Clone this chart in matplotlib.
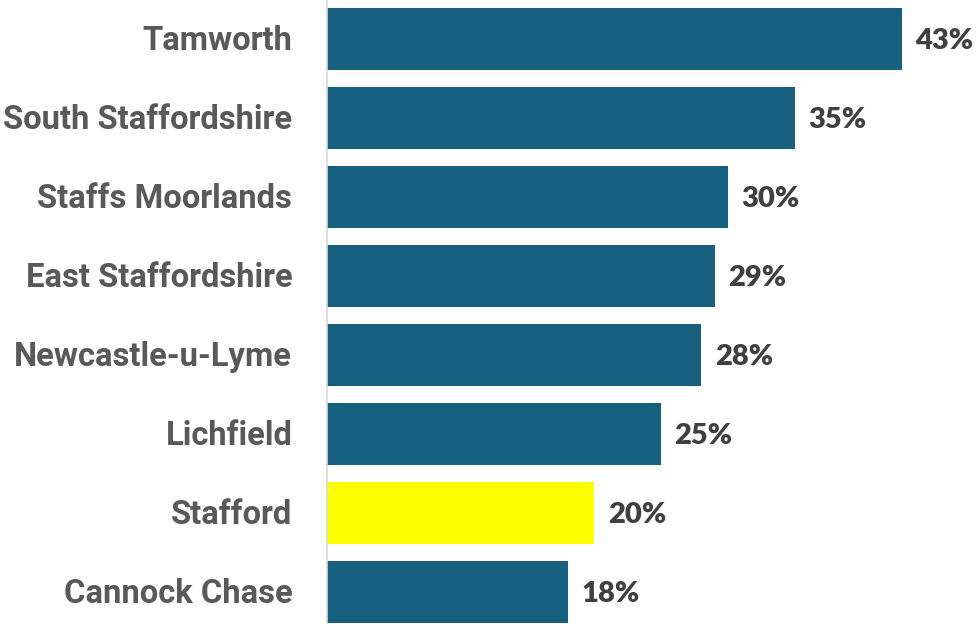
import matplotlib
matplotlib.use("Agg")
import matplotlib.pyplot as plt
import matplotlib.transforms as mtransforms

areas = ["Tamworth", "South Staffordshire", "Staffs Moorlands", "East Staffordshire",
         "Newcastle-u-Lyme", "Lichfield", "Stafford", "Cannock Chase"]
shares = [43, 35, 30, 29, 28, 25, 20, 18]
highlight = "Stafford"

blue = "#17607f"
yellow = "#ffff00"
colors = [yellow if a == highlight else blue for a in areas]

fig = plt.figure(figsize=(9.8, 6.24), dpi=100)
ax = fig.add_axes([327 / 980, 0, 653 / 980, 1])

ypos = list(range(len(areas)))
ax.barh(ypos, shares, height=0.775, color=colors)
ax.set_xlim(0, 48.84)
ax.set_ylim(7.405, -0.494)

for y, v in zip(ypos, shares):
    ax.text(v + 1.0, y + 0.02, f"{v}%", va="center", ha="left", fontsize=21,
            fontweight="heavy", color="#404040", family=["Lato", "DejaVu Sans"])

ax.set_yticks(ypos)
ax.set_yticklabels(areas, fontsize=23.6, fontweight="bold", color="#595959",
                   family=["Roboto", "DejaVu Sans"])
ax.tick_params(axis="y", length=0, pad=25)
# nudge labels up a touch
shift = mtransforms.ScaledTranslation(0, 2 / 100, fig.dpi_scale_trans)
for lbl in ax.get_yticklabels():
    lbl.set_transform(lbl.get_transform() + shift)
ax.set_xticks([])
for s in ["top", "right", "bottom"]:
    ax.spines[s].set_visible(False)
ax.spines["left"].set_color("#d9d9d9")
ax.spines["left"].set_linewidth(1.2)

fig.savefig("out.png", dpi=100)
